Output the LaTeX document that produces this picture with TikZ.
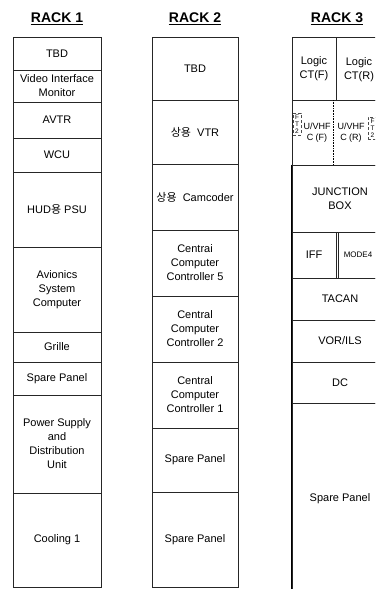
\documentclass[tikz,border=0pt]{standalone}
\usepackage{fontspec}
\setmainfont{Liberation Sans}
\newfontfamily\kr{Noto Sans CJK KR}
\tikzset{
  cell/.style={draw=black!85, line width=0.8pt, inner sep=0pt, align=center, font=\fontsize{11}{14}\selectfont},
  plain/.style={inner sep=0pt, align=center, font=\fontsize{11}{14}\selectfont},
  small/.style={inner sep=0pt, align=center, font=\fontsize{9}{11}\selectfont},
  ftbox/.style={draw=black!70, line width=0.5pt, densely dashed, inner sep=0pt, align=center, font=\fontsize{6.5}{7}\selectfont},
  title/.style={inner sep=0pt, font=\bfseries\fontsize{14}{16}\selectfont},
  uline/.style={line width=1.2pt}
}
% \rcell[options]{name}{x1}{y1}{x2}{y2}{text}
\newcommand\rcell[7][]{%
  \node[cell, minimum width={#5-#3}, minimum height={#6-#4}, #1] (#2) at ({(#3+#5)/2},{(#4+#6)/2}) {#7};}
\begin{document}
\begin{tikzpicture}[x=1pt,y=-1pt]
\useasboundingbox (0,0) rectangle (375,589);
\begin{scope}
\clip (0,0) rectangle (375,589);
% titles
\node[title] (t1) at (57,18) {RACK 1};
\node[title] (t2) at (195,18) {RACK 2};
\node[title] (t3) at (337,18) {RACK 3};
\foreach \t in {t1,t2,t3}{
  \draw[uline] ([yshift=-2pt]\t.base west) -- ([yshift=-2pt]\t.base east);
}
% RACK 1
\rcell{r1a}{13}{37}{101}{70}{TBD}
\rcell{r1b}{13}{70}{101}{102}{Video Interface\\Monitor}
\rcell{r1c}{13}{102}{101}{138}{AVTR}
\rcell{r1d}{13}{138}{101}{172}{WCU}
\rcell{r1e}{13}{172}{101}{247}{HUD{\kr 용} PSU}
\rcell{r1f}{13}{247}{101}{332}{Avionics\\System\\Computer}
\rcell{r1g}{13}{332}{101}{362}{Grille}
\rcell{r1h}{13}{362}{101}{395}{Spare Panel}
\rcell{r1i}{13}{395}{101}{493}{Power Supply\\and\\Distribution\\Unit}
\rcell{r1j}{13}{493}{101}{587}{Cooling 1}
% RACK 2
\rcell{r2a}{152}{37}{238}{100}{TBD}
\rcell{r2b}{152}{100}{238}{164}{{\kr 상용}\ \ VTR}
\rcell{r2c}{152}{164}{238}{230}{{\kr 상용}\ \ Camcoder}
\rcell{r2d}{152}{230}{238}{296}{Centrai\\Computer\\Controller 5}
\rcell{r2e}{152}{296}{238}{362}{Central\\Computer\\Controller 2}
\rcell{r2f}{152}{362}{238}{428}{Central\\Computer\\Controller 1}
\rcell{r2g}{152}{428}{238}{492}{Spare Panel}
\rcell{r2h}{152}{492}{238}{587}{Spare Panel}
% RACK 3
\rcell{r3a}{292}{37}{336}{100}{Logic\\CT(F)}
\rcell{r3b}{336}{37}{388}{100}{}
\node[plain] (r3bt) at (359,70) {Logic\\CT(R)};
\rcell{r3c}{292}{100}{388}{165}{}
\coordinate (d1) at (333,100);
\coordinate (d2) at (333,165);
\draw[densely dotted, line width=0.6pt] (d1) -- (d2);
\node[small] (u1) at (317,133) {U/VHF\\C (F)};
\node[small] (u2) at (351,133) {U/VHF\\C (R)};
\rcell[ftbox]{ft1}{293}{113}{301}{135}{F\\T\\2}
\rcell[ftbox]{ft2}{368}{117}{377}{139}{F\\T\\2}
\rcell{r3d}{292}{165}{388}{232}{JUNCTION\\BOX}
\rcell{r3e}{292}{232}{336}{278}{IFF}
\rcell{r3f}{338}{232}{388}{278}{}
\node[inner sep=0pt, font=\fontsize{8}{10}\selectfont] (r3ft) at (358,255) {MODE4};
\rcell{r3g}{292}{278}{388}{320}{TACAN}
\rcell{r3h}{292}{320}{388}{362}{VOR/ILS}
\rcell{r3i}{292}{362}{388}{403}{DC}
\rcell{r3j}{292}{403}{388}{594}{Spare Panel}
\draw[line width=1.6pt] (r3d.north west) -- (r3j.south west);
\end{scope}
\end{tikzpicture}
\end{document}
